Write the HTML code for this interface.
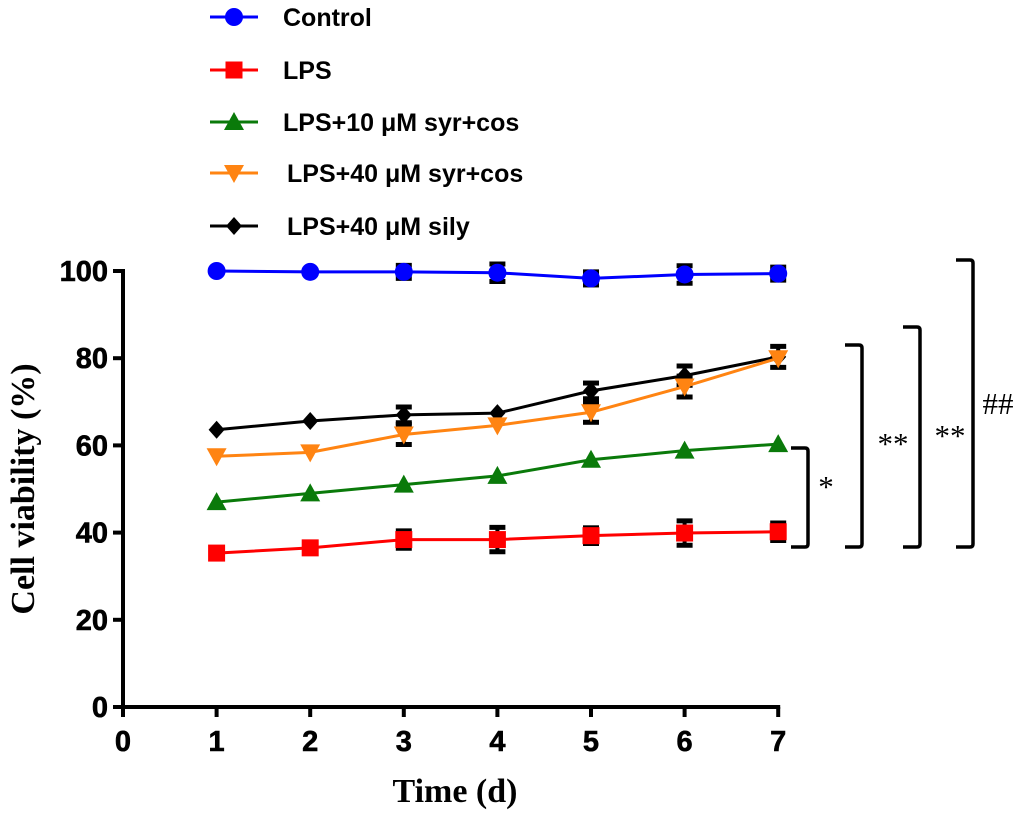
<!DOCTYPE html>
<html><head><meta charset="utf-8"><style>
html,body{margin:0;padding:0;background:#fff;}
svg{display:block;}
.tick{font-family:"Liberation Sans",sans-serif;font-weight:bold;font-size:29px;fill:#000;stroke:#000;stroke-width:0.6px;}
.leg{font-family:"Liberation Sans",sans-serif;font-weight:bold;font-size:25px;fill:#000;}
.ttl{font-family:"Liberation Serif",serif;font-weight:bold;font-size:34px;fill:#000;}
.sig{font-family:"Liberation Serif",serif;font-size:31px;fill:#000;}
</style></head><body>
<svg id="chart" width="1020" height="814" viewBox="0 0 1020 814" xmlns="http://www.w3.org/2000/svg">
<g id="axes"></g>
<g id="series"></g>
<g id="legend"></g>
<g id="sig"></g>
<text class="ttl" x="455" y="802" text-anchor="middle">Time (d)</text>
<text class="ttl" transform="translate(34,489) rotate(-90)" text-anchor="middle">Cell viability (%)</text>
</svg>
<script>
const days = [1,2,3,4,5,6,7];
const xTicks = [0,1,2,3,4,5,6,7];
const yTicks = [0,20,40,60,80,100];
const seriesNames = ["Control","LPS","LPS+10 μM syr+cos","LPS+40 μM syr+cos","LPS+40 μM sily"];
const seriesColors = ["#0000ff","#ff0000","#0a7a0a","#ff8412","#000000"];
const seriesMarkers = ["circle","square","triangle","tridown","diamond"];
const controlVals = [100,99.8,99.8,99.6,98.3,99.2,99.4];
const lpsVals = [35.3,36.5,38.4,38.4,39.3,39.9,40.2];
const syr10Vals = [47,49,51,53,56.7,58.8,60.3];
const syr40Vals = [57.5,58.4,62.5,64.6,67.6,73.5,80];
const silyVals = [63.6,65.6,67,67.4,72.5,76,80.3];
const controlErr = [0,0,1.5,2,1.5,2,1.5];
const lpsErr = [0,0,2,2.8,1.8,2.8,2];
const syr10Err = [0,0,0,0,0,0,0];
const syr40Err = [0,0,2.3,0,2.3,2.4,0];
const silyErr = [0,0,1.8,0,1.8,2.2,2.4];
const allVals = [controlVals,lpsVals,syr10Vals,syr40Vals,silyVals];
const allErr = [controlErr,lpsErr,syr10Err,syr40Err,silyErr];

const X0=123, XS=93.6, Y0=707, YS=4.36;
const xs = d => X0 + d*XS;
const ys = v => Y0 - v*YS;
const NS="http://www.w3.org/2000/svg";
function mk(tag, attrs, parent){const e=document.createElementNS(NS,tag);for(const k in attrs)e.setAttribute(k,attrs[k]);parent.appendChild(e);return e;}

const axes=document.getElementById('axes');
let a=mk('line',{x1:X0,y1:Y0,x2:xs(7)+2,y2:Y0,stroke:'#000','stroke-width':4},axes);


a=mk('line',{x1:X0,y1:Y0+2,x2:X0,y2:ys(100)-2,stroke:'#000','stroke-width':4},axes);


xTicks.forEach(t=>{
  mk('line',{x1:xs(t),y1:Y0,x2:xs(t),y2:Y0+10,stroke:'#000','stroke-width':4},axes);
  const tx=mk('text',{x:xs(t),y:Y0+44,'text-anchor':'middle',class:'tick'},axes);
  tx.textContent=t;
  
  
});
yTicks.forEach(t=>{
  mk('line',{x1:X0-10,y1:ys(t),x2:X0,y2:ys(t),stroke:'#000','stroke-width':4},axes);
  const tx=mk('text',{x:X0-15,y:ys(t)+10,'text-anchor':'end',class:'tick'},axes);
  tx.textContent=t;
  
  
});

function marker(type,x,y,color,parent,s){
  s=s||1;
  if(type==='circle') return mk('circle',{cx:x,cy:y,r:9*s,fill:color},parent);
  if(type==='square') return mk('rect',{x:x-8.5*s,y:y-8.5*s,width:17*s,height:17*s,fill:color},parent);
  if(type==='triangle') return mk('polygon',{points:`${x},${y-10*s} ${x-10*s},${y+8*s} ${x+10*s},${y+8*s}`,fill:color},parent);
  if(type==='tridown') return mk('polygon',{points:`${x},${y+10*s} ${x-10*s},${y-8*s} ${x+10*s},${y-8*s}`,fill:color},parent);
  return mk('polygon',{points:`${x},${y-9*s} ${x+8*s},${y} ${x},${y+9*s} ${x-8*s},${y}`,fill:color},parent);
}

const ser=document.getElementById('series');
[4,3,2,1,0].forEach(i=>{
  const g=mk('g',{},ser);
  
  
  const vals=allVals[i], err=allErr[i];
  days.forEach((d,j)=>{
    if(err[j]>0){
      const x=xs(d);
      mk('line',{x1:x,y1:ys(vals[j]+err[j]),x2:x,y2:ys(vals[j]-err[j]),stroke:'#000','stroke-width':4},g);
      mk('line',{x1:x-8,y1:ys(vals[j]+err[j]),x2:x+8,y2:ys(vals[j]+err[j]),stroke:'#000','stroke-width':5},g);
      mk('line',{x1:x-8,y1:ys(vals[j]-err[j]),x2:x+8,y2:ys(vals[j]-err[j]),stroke:'#000','stroke-width':5},g);
    }
  });
  const pl=mk('polyline',{points:days.map((d,j)=>xs(d)+','+ys(vals[j])).join(' '),fill:'none',stroke:seriesColors[i],'stroke-width':3},g);
  
  
  days.forEach((d,j)=>{
    const m=marker(seriesMarkers[i],xs(d),ys(vals[j]),seriesColors[i],g);
    
    
  });
});

const leg=document.getElementById('legend');
const legY=[17,70,122,173,226];
const legTX=[283,283,283,287,287];
seriesNames.forEach((n,i)=>{
  const g=mk('g',{},leg);
  
  
  mk('line',{x1:210,y1:legY[i],x2:258,y2:legY[i],stroke:seriesColors[i],'stroke-width':3},g);
  marker(seriesMarkers[i],234,legY[i],seriesColors[i],g);
  const t=mk('text',{x:legTX[i],y:legY[i]+9,class:'leg'},g);
  t.textContent=n;
});

const sg=document.getElementById('sig');
const brackets=[[808,448,547,'*',826,497],[862,345,547,'**',893,454],[920,327,547,'**',950,446],[973,260,547,'##',998,414]];
brackets.forEach(b=>{
  const [x,t,bo,lab,lx,ly]=b;
  const p=mk('path',{d:`M${x-17},${t} L${x-3},${t} Q${x},${t} ${x},${t+3} L${x},${bo-3} Q${x},${bo} ${x-3},${bo} L${x-17},${bo}`,fill:'none',stroke:'#000','stroke-width':3.5},sg);
  
  
  const tx=mk('text',{x:lx,y:ly,'text-anchor':'middle',class:'sig'},sg);
  tx.textContent=lab;
  
  
});
</script>
</body></html>
